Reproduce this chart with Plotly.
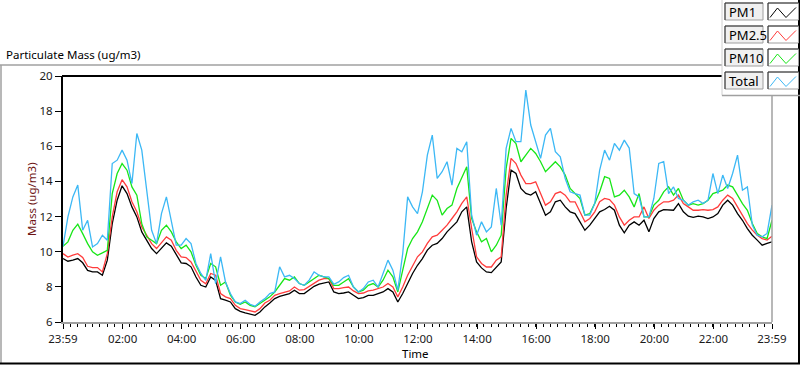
import pandas as pd
import plotly.graph_objects as go

# ---------------- data (10-minute samples) -------------
start_time = "2024-01-01 23:59"
n_samples = 145

pm1 = [9.61, 9.46, 9.52, 9.61, 9.37, 8.94, 8.85, 8.85, 8.66, 9.52,
       11.6, 12.93, 13.75, 13.31, 12.55, 11.98, 11.13, 10.65, 10.18, 9.89,
       10.18, 10.5, 10.31, 9.8, 9.37, 9.33, 9.14, 8.56, 8.09, 7.99,
       8.56, 8.37, 7.33, 7.24, 7.14, 6.76, 6.61,
       6.52, 6.44, 6.38, 6.57, 6.86, 7.08, 7.33, 7.46, 7.52, 7.62,
       7.81, 7.62, 7.62, 7.81, 8.03, 8.15, 8.22, 8.28, 7.71, 7.62,
       7.65, 7.71, 7.52, 7.33, 7.39, 7.52, 7.52, 7.62, 7.71, 7.9,
       7.71, 7.14, 7.62, 8.19, 8.76, 9.23,
       9.61, 10.09, 10.37, 10.47, 10.75, 11.13, 11.41, 11.7, 12.27, 12.55,
       10.56, 9.42, 9.08, 8.85, 8.81, 9.13, 9.42, 12.46, 14.64, 14.45,
       13.6, 13.32, 13.22, 13.41, 12.75, 12.08, 12.27, 12.84, 12.93, 12.55,
       12.27, 12.17, 11.7, 11.22, 11.51, 11.89,
       12.27, 12.4, 12.59, 12.36, 11.51, 11.07, 11.51, 11.7, 11.51, 11.79,
       11.13, 11.89, 12.27, 12.4, 12.36, 12.36, 12.74, 12.27, 12.02, 11.95,
       12.02, 11.98, 11.89, 11.98, 12.17, 12.65, 12.93, 12.65, 12.17, 11.79,
       11.32, 10.94, 10.66, 10.37, 10.47, 10.56]

pm25 = [9.89, 9.7, 9.8, 9.89, 9.67, 9.17, 9.1, 9.1, 8.85, 9.89,
        11.98, 13.41, 14.1, 13.69, 12.84, 12.27, 11.41, 10.94, 10.46, 10.18,
        10.5, 10.84, 10.65, 10.08, 9.7, 9.67, 9.42, 8.85, 8.37, 8.18,
        8.76, 8.66, 7.62, 7.43, 7.33, 6.95, 6.76,
        6.71, 6.63, 6.57, 6.76, 7.08, 7.24, 7.52, 7.62, 7.71, 7.77,
        7.99, 7.81, 7.84, 8.03, 8.22, 8.38, 8.47, 8.47, 7.9, 7.9,
        7.96, 7.99, 7.77, 7.62, 7.65, 7.77, 7.81, 7.9, 7.99, 8.19,
        7.99, 7.43, 7.99, 8.66, 9.23, 9.71,
        9.99, 10.47, 10.85, 10.94, 11.22, 11.51, 11.89, 12.27, 12.75, 13.12,
        11.32, 9.71, 9.33, 9.13, 9.13, 9.52, 9.71, 13.22, 15.31, 15.02,
        14.36, 13.88, 13.88, 13.98, 13.31, 12.65, 12.84, 13.31, 13.41, 13.22,
        12.84, 12.84, 12.27, 11.7, 11.89, 12.27,
        12.84, 13.03, 12.97, 12.65, 11.98, 11.51, 11.79, 11.98, 11.98, 12.55,
        11.89, 12.36, 12.65, 12.84, 12.84, 12.93, 13.22, 12.74, 12.55, 12.36,
        12.36, 12.4, 12.36, 12.4, 12.55, 12.93, 13.22, 13.03, 12.55, 12.08,
        11.6, 11.23, 10.94, 10.75, 10.66, 10.88]

pm10 = [10.31, 10.56, 11.22, 11.57, 11.03, 10.46, 9.99, 9.8, 9.93, 10.08,
        13.31, 14.45, 15.02, 14.64, 13.69, 13.22, 11.6, 10.84, 10.65, 10.46,
        11.22, 11.51, 11.13, 10.56, 10.18, 10.37, 9.99, 9.23, 8.66, 8.47,
        9.33, 9.14, 8.09, 8.28, 7.52, 7.14, 7.01,
        7.14, 6.95, 6.86, 7.05, 7.24, 7.43, 7.71, 8.09, 8.47, 8.38,
        8.57, 8.19, 8.09, 8.28, 8.47, 8.66, 8.57, 8.47, 8.09, 8.09,
        8.28, 8.47, 7.99, 7.71, 7.81, 8.09, 8.19, 7.99, 8.38, 8.95,
        8.57, 7.71, 8.95, 10.18, 10.75, 11.13,
        11.7, 12.46, 13.22, 12.93, 12.08, 12.46, 12.65, 13.6, 14.17, 14.83,
        11.89, 11.13, 10.56, 10.75, 9.99, 10.37, 10.94, 14.74, 16.45, 16.16,
        15.12, 15.5, 15.88, 15.59, 15.12, 14.55, 14.83, 15.12, 14.83, 14.36,
        13.6, 13.31, 13.03, 12.08, 12.17, 12.75,
        13.41, 14.27, 14.17, 13.12, 13.22, 13.5, 13.12, 12.55, 13.31, 11.98,
        11.98, 12.65, 12.93, 13.41, 13.69, 13.22, 13.6, 12.93, 12.65, 12.74,
        12.65, 12.74, 12.93, 13.31, 13.41, 13.5, 13.79, 13.69, 13.22, 12.74,
        12.36, 11.6, 11.04, 10.85, 10.75, 11.79]

total = [10.31, 11.98, 13.12, 13.79, 11.22, 11.79, 10.27, 10.46, 10.94, 10.65,
         15.02, 15.21, 15.78, 15.21, 13.88, 16.73, 15.78, 13.5, 11.22, 10.46,
         12.17, 13.12, 11.79, 10.37, 10.37, 10.75, 10.46, 9.33, 8.76, 8.37,
         9.89, 8.18, 9.7, 8.28, 7.62, 7.14, 7.05,
         7.24, 7.01, 6.9, 7.14, 7.33, 7.62, 7.71, 9.14, 8.57, 8.66,
         8.47, 8.19, 8.09, 8.38, 8.85, 8.66, 8.57, 8.57, 8.15, 8.28,
         8.53, 8.66, 7.99, 7.71, 7.9, 8.28, 8.38, 7.99, 8.76, 9.52,
         8.95, 7.81, 9.9, 13.12, 12.55, 12.17,
         13.41, 15.5, 16.64, 14.17, 14.55, 15.12, 13.79, 15.88, 15.69, 16.26,
         12.08, 10.94, 11.7, 11.13, 11.41, 13.6, 11.51, 15.88, 17.02, 16.26,
         16.26, 19.2, 17.21, 16.26, 15.31, 16.64, 17.02, 15.69, 15.4, 14.17,
         13.41, 13.31, 13.22, 12.08, 12.08, 12.75,
         14.64, 15.78, 15.21, 16.16, 15.78, 16.35, 15.9, 13.31, 13.12, 11.98,
         11.98, 13.03, 15.02, 15.12, 13.31, 13.69, 13.03, 12.93, 12.65, 12.84,
         12.93, 12.74, 12.93, 14.45, 13.31, 14.36, 13.6, 14.45, 15.5, 13.5,
         13.69, 11.51, 10.94, 10.85, 11.04, 12.65]

tick_times = ["2024-01-01 23:59", "2024-01-02 02:00", "2024-01-02 04:00",
              "2024-01-02 06:00", "2024-01-02 08:00", "2024-01-02 10:00",
              "2024-01-02 12:00", "2024-01-02 14:00", "2024-01-02 16:00",
              "2024-01-02 18:00", "2024-01-02 20:00", "2024-01-02 22:00",
              "2024-01-02 23:59"]
tick_labels = ["23:59", "02:00", "04:00", "06:00", "08:00", "10:00", "12:00",
               "14:00", "16:00", "18:00", "20:00", "22:00", "23:59"]
y_ticks = [6, 8, 10, 12, 14, 16, 18, 20]

series_names = ["PM1", "PM2.5", "PM10", "Total"]
series_values = [pm1, pm25, pm10, total]
series_colors = ["#000000", "#ff3c3c", "#17e617", "#3cb8f5"]

# ---------------- figure -------------
times = pd.date_range(start_time, periods=n_samples, freq="10min")

FONT = "Segoe UI, Noto Sans, sans-serif"
W, H = 800, 365
L, R, T, B = 63, 772, 76, 322


def px(x):
    return (x - L) / (R - L)


def py(y):
    return (B - y) / (B - T)


fig = go.Figure()
for name, vals, col in zip(series_names, series_values, series_colors):
    fig.add_trace(go.Scatter(x=times, y=vals, mode="lines", name=name,
                             line=dict(color=col, width=1.3)))

shapes = []
annotations = []

# plot-area frame (top black, right grey)
shapes.append(dict(type="line", xref="paper", yref="paper", x0=px(62), x1=px(722),
                   y0=1, y1=1, line=dict(color="black", width=2)))
shapes.append(dict(type="line", xref="paper", yref="paper", x0=1, x1=1,
                   y0=0, y1=py(96), line=dict(color="#a0a0a0", width=1.5)))
# outer panel frame
shapes.append(dict(type="line", xref="paper", yref="paper", x0=px(0), x1=px(722),
                   y0=py(65), y1=py(65), line=dict(color="#a0a0a0", width=1.5)))
shapes.append(dict(type="line", xref="paper", yref="paper", x0=px(1), x1=px(1),
                   y0=py(65), y1=py(363), line=dict(color="#a0a0a0", width=1.5)))
shapes.append(dict(type="line", xref="paper", yref="paper", x0=px(0), x1=px(800),
                   y0=py(363.5), y1=py(363.5), line=dict(color="black", width=2)))
shapes.append(dict(type="line", xref="paper", yref="paper", x0=px(799), x1=px(799),
                   y0=py(0), y1=py(364), line=dict(color="black", width=2)))

# legend panel
shapes.append(dict(type="rect", xref="paper", yref="paper", x0=px(722), x1=px(798),
                   y0=py(0), y1=py(95.5), fillcolor="white", line=dict(width=0)))
shapes.append(dict(type="line", xref="paper", yref="paper", x0=px(722), x1=px(722),
                   y0=py(0), y1=py(95.5), line=dict(color="#d0d0d0", width=1)))
shapes.append(dict(type="line", xref="paper", yref="paper", x0=px(722), x1=px(800),
                   y0=py(95.5), y1=py(95.5), line=dict(color="#a0a0a0", width=1.5)))

row_tops = [3, 26, 49, 72]
row_h = 17
for top, name, col in zip(row_tops, series_names, series_colors):
    bot = top + row_h
    for (x0, x1, fill) in [(725, 763, "#f0f0f0"), (768, 798.5, "white")]:
        shapes.append(dict(type="rect", xref="paper", yref="paper",
                           x0=px(x0), x1=px(x1), y0=py(bot), y1=py(top),
                           fillcolor=fill, line=dict(color="#a0a0a0", width=1)))
        shapes.append(dict(type="line", xref="paper", yref="paper",
                           x0=px(x0), x1=px(x1), y0=py(top), y1=py(top),
                           line=dict(color="#303030", width=1)))
        shapes.append(dict(type="line", xref="paper", yref="paper",
                           x0=px(x0), x1=px(x0), y0=py(top), y1=py(bot),
                           line=dict(color="#303030", width=1)))
    zz = [(770, top + 14.5), (777.5, top + 5), (786, top + 14.5), (796, top + 4.5)]
    path = "M " + " L ".join(f"{px(a):.5f},{py(b):.5f}" for a, b in zz)
    shapes.append(dict(type="path", xref="paper", yref="paper", path=path,
                       line=dict(color=col, width=1)))
    annotations.append(dict(xref="paper", yref="paper", x=px(727), y=py(top + row_h / 2 + 0.5),
                            text=name, showarrow=False, xanchor="left", yanchor="middle",
                            font=dict(family=FONT, size=13, color="black")))

# titles
annotations.append(dict(xref="paper", yref="paper", x=px(4), y=py(55),
                        text="Particulate Mass (ug/m3)", showarrow=False,
                        xanchor="left", yanchor="middle",
                        font=dict(family=FONT, size=11.5, color="black")))
annotations.append(dict(xref="paper", yref="paper", x=px(31), y=py(199),
                        text="Mass (ug/m3)", showarrow=False, textangle=-90,
                        xanchor="center", yanchor="middle",
                        font=dict(family=FONT, size=11.5, color="#6e1414")))
annotations.append(dict(xref="paper", yref="paper", x=px(415), y=py(353),
                        text="Time", showarrow=False,
                        xanchor="center", yanchor="middle",
                        font=dict(family=FONT, size=11.5, color="black")))

fig.update_layout(
    width=W, height=H,
    margin=dict(l=L, r=W - R, t=T, b=H - B, pad=0),
    paper_bgcolor="white", plot_bgcolor="white",
    showlegend=False,
    shapes=shapes, annotations=annotations,
    font=dict(family=FONT, size=11.5, color="#1a1a1a"),
)
fig.update_xaxes(
    type="date", range=[tick_times[0], tick_times[-1]],
    tickmode="array", tickvals=tick_times, ticktext=tick_labels,
    ticks="outside", ticklen=5, tickwidth=1, tickcolor="black",
    showgrid=False, zeroline=False,
    showline=True, linecolor="#a0a0a0", linewidth=1.5,
    tickfont=dict(family=FONT, size=11.5, color="#1a1a1a"),
    minor=dict(ticks="outside", ticklen=3, tickcolor="black", tickwidth=1,
               tickmode="linear", tick0=tick_times[0], dtick=15 * 60 * 1000,
               showgrid=False),
)
fig.update_yaxes(
    range=[6, 20], tickmode="array", tickvals=y_ticks,
    ticks="outside", ticklen=6, tickwidth=1, tickcolor="black",
    showgrid=False, zeroline=False,
    showline=True, linecolor="black", linewidth=2,
    tickfont=dict(family=FONT, size=11.5, color="#1a1a1a"),
)

fig.write_html("out.html", config={"displayModeBar": False},
               post_script="document.body.style.margin='0px';")
